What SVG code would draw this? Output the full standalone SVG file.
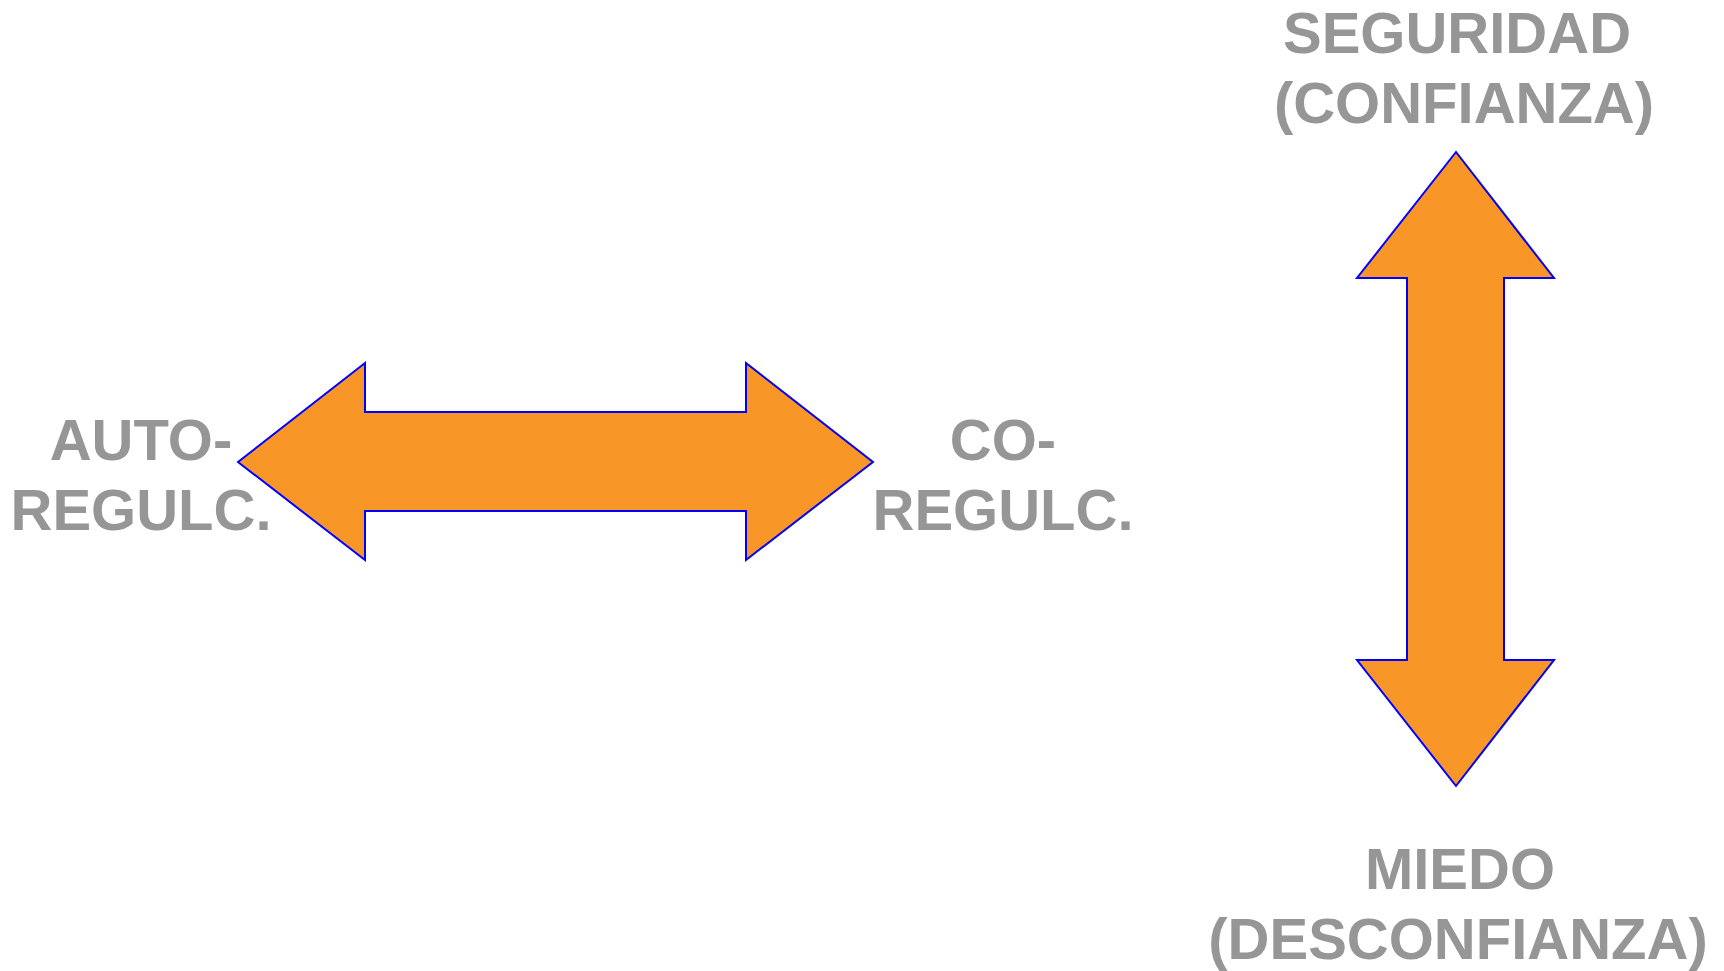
<svg xmlns="http://www.w3.org/2000/svg" width="1724" height="971" viewBox="0 0 1724 971">
  <style>
    .arrow { fill: #F99628; stroke: #0000FF; stroke-width: 2; stroke-linejoin: miter; }
    .label { font-family: "Liberation Sans", Arial, sans-serif; font-weight: bold; font-size: 58px; fill: #969696; text-anchor: middle; }
  </style>
  <rect width="1724" height="971" fill="#FFFFFF"/>

  <!-- double-headed arrows -->
  <g id="connectors">
    <polygon id="arrow-horizontal" class="arrow" points="238,462 365,363 365,412 746,412 746,363 873,462 746,560 746,511 365,511 365,560"/>
    <polygon id="arrow-vertical" class="arrow" points="1456,152 1554,278 1504,278 1504,660 1554,660 1456,786 1357,660 1407,660 1407,278 1357,278"/>
  </g>

  <g id="node-auto">
    <text class="label" x="141" y="460">AUTO-</text>
    <text class="label" x="141" y="530">REGULC.</text>
  </g>

  <g id="node-co">
    <text class="label" x="1003" y="460">CO-</text>
    <text class="label" x="1003" y="530">REGULC.</text>
  </g>

  <g id="node-seguridad">
    <text class="label" x="1457" y="53">SEGURIDAD</text>
    <text class="label" x="1464" y="123">(CONFIANZA)</text>
  </g>

  <g id="node-miedo">
    <text class="label" x="1460" y="889">MIEDO</text>
    <text class="label" x="1458" y="959">(DESCONFIANZA)</text>
  </g>
</svg>
